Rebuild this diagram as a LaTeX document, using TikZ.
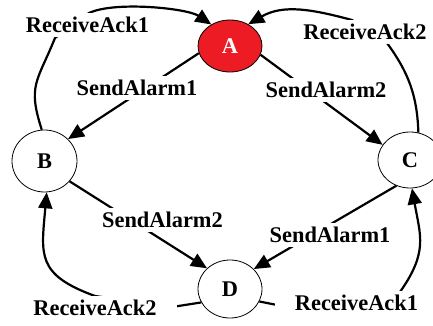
\documentclass[tikz,border=0pt]{standalone}
\usepackage{fontspec}
\setmainfont{Liberation Serif}
\usetikzlibrary{arrows.meta,shapes.geometric}
\definecolor{alarmred}{HTML}{ED1C24}
\begin{document}
\begin{tikzpicture}[x=1pt,y=1pt,
  state/.style={ellipse, draw=black, line width=0.8pt, inner sep=0pt,
    font=\fontsize{22.4}{26}\selectfont\bfseries},
  trans/.style={line width=2.2pt, -{Triangle[length=16pt,width=14pt]}},
  lbl/.style={fill=white, inner ysep=4.5pt, inner xsep=6pt, text height=15pt,
    text depth=0pt, anchor=base, font=\fontsize{22.4}{26}\selectfont\bfseries},
  widelbl/.style={lbl, inner xsep=20pt}]
\useasboundingbox (0,0) rectangle (433,325);
\clip (0,0) rectangle (433,325);

% states
\node[state, fill=alarmred, text=white, minimum width=64pt, minimum height=52pt] (A) at (230,279) {A};
\node[state, minimum width=65pt, minimum height=62pt] (B) at (44.5,164) {B};
\node[state, minimum width=64pt, minimum height=56pt] (C) at (410,165) {C};
\node[state, minimum width=64pt, minimum height=58pt] (D) at (230,36) {D};

% alarm transitions
\draw[trans] (A.193) -- (B.43);
\draw[trans] (A.344) -- (C.151);
\draw[trans] (B.321) -- (D.138);
\draw[trans] (C.242) -- (D.40);

% acknowledgement transitions (bends pass behind their labels)
\coordinate (k1a) at (55,287);
\coordinate (k1b) at (89,312);
\draw[trans] (B.95) to[out=108,in=-112,looseness=1.3] (k1a) -- (k1b)
  to[out=25,in=146,looseness=0.6] (A.131);

\coordinate (k2a) at (387,282);
\coordinate (k2b) at (352,305);
\draw[trans] (C.73) to[out=92,in=-54] (k2a) -- (k2b)
  to[out=165,in=30] (A.50);

\coordinate (k3a) at (172,18);
\coordinate (k3b) at (95,29);
\draw[trans] (D.205) -- (k3a) -- (k3b)
  to[out=160,in=-95,looseness=1.4] (B.274);

\coordinate (k4a) at (282,19);
\coordinate (k4b) at (400,33);
\draw[trans] (D.337) -- (k4a) -- (k4b)
  to[out=55,in=-80,looseness=1.2] (C.274);

% labels
\node[lbl] (sa1ab) at (137,230) {SendAlarm1};
\node[lbl] (sa2ac) at (326,228) {SendAlarm2};
\node[lbl] (sa2bd) at (162.5,98) {SendAlarm2};
\node[lbl] (sa1cd) at (330,83) {SendAlarm1};
\node[lbl] (ra1ba) at (87.5,293) {ReceiveAck1};
\node[lbl] (ra2ca) at (365,286) {ReceiveAck2};
\node[widelbl] (ra2db) at (95,10) {ReceiveAck2};
\node[widelbl] (ra1dc) at (356.5,15) {ReceiveAck1};
\end{tikzpicture}
\end{document}
